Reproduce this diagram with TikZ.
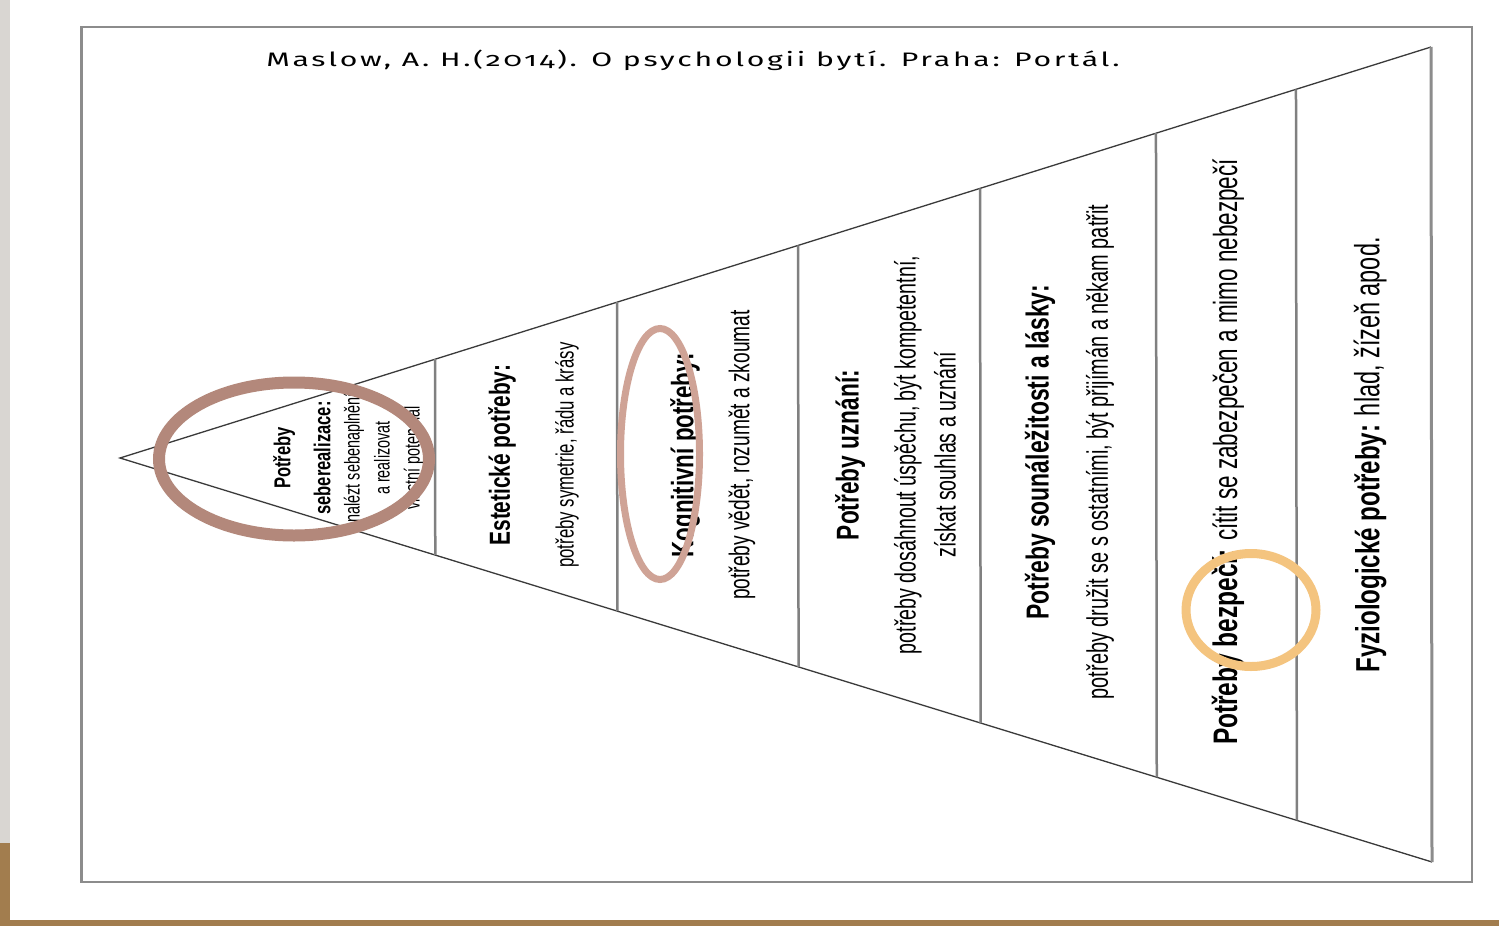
\documentclass[tikz,border=0pt]{standalone}
\usepackage{fontspec}
\usetikzlibrary{calc,shapes.geometric}
\newfontfamily\pyrfont{Liberation Sans}[FakeStretch=0.67,BoldFeatures={FakeStretch=0.72}]
\newfontfamily\citefont{Fira Sans}[Numbers=OldStyle,FakeStretch=1.55,LetterSpace=14]
\definecolor{frameGray}{HTML}{8C8C8C}
\definecolor{edgeDark}{HTML}{3A3A3A}
\definecolor{slideGray}{HTML}{D9D6D2}
\definecolor{woodBrown}{HTML}{A27D4E}
\definecolor{ringBrown}{HTML}{B3887B}
\definecolor{ringPink}{HTML}{CFA396}
\definecolor{ringGold}{HTML}{F4C47F}
\tikzset{
  head/.style 2 args={rotate=90,inner sep=0pt,align=center,font=\pyrfont\bfseries\fontsize{#1}{#2}\selectfont},
  desc/.style 2 args={rotate=90,inner sep=0pt,align=center,font=\pyrfont\fontsize{#1}{#2}\selectfont},
  ring/.style={ellipse,draw,inner sep=0pt}
}
\begin{document}
\begin{tikzpicture}[x=1pt,y=-1pt]
    \useasboundingbox (0,0) rectangle (1499,926);
    \fill[white] (0,0) rectangle (1499,926);
    \fill[slideGray] (0,0) rectangle (10,843);
    \fill[woodBrown] (0,843) rectangle (10,926);
    \fill[woodBrown] (0,920) rectangle (1499,926);
    \draw[frameGray,line width=1.5pt] (81,27) rectangle (1472,882);
    \draw[frameGray,line width=3pt] (81,27) -- (81,882);
    \node[font=\citefont\fontsize{19.5}{24}\selectfont] (cite) at (693,60) {Maslow, A. H.(2014). O psychologii bytí. Praha: Portál.};
    \coordinate (tip) at (120,458);
    \coordinate (topR) at (1431,47);
    \coordinate (botR) at (1432,862);
    \draw[edgeDark,line width=1.3pt] (topR) -- (tip) -- (botR);
    \draw[frameGray,line width=3pt] (topR) -- (botR);
    \foreach \pos in {0.2403,0.3791,0.5172,0.6560,0.7902,0.8970}
      \draw[gray,line width=2.5pt] ($(tip)!\pos!(topR)$) -- ($(tip)!\pos!(botR)$);
    \node[head={23}{40}] (selfHead) at (302,458) {Potřeby\\seberealizace:};
    \node[desc={21.5}{30}] (selfDesc) at (384,458) {nalézt sebenaplnění\\a realizovat\\vlastní potenciál};
    \node[head={29}{35}] (aesHead) at (502,455) {Estetické potřeby:};
    \node[desc={25}{30}] (aesDesc) at (567,455) {potřeby symetrie, řádu a krásy};
    \node[head={31}{37}] (cogHead) at (685,455) {Kognitivní potřeby:};
    \node[desc={28.6}{34}] (cogDesc) at (742,455) {potřeby vědět, rozumět a zkoumat};
    \node[head={31.5}{38}] (estHead) at (850,455) {Potřeby uznání:};
    \node[desc={29.3}{40}] (estDesc) at (925,455) {potřeby dosáhnout úspěchu, být kompetentní,\\získat souhlas a uznání};
    \node[head={31.8}{38}] (loveHead) at (1040,452) {Potřeby sounáležitosti a lásky:};
    \node[desc={29.7}{36}] (loveDesc) at (1100,452) {potřeby družit se s ostatními, být přijímán a někam patřit};
    \node[desc={33.5}{40}] (safeLine) at (1228,452) {{\bfseries\fontsize{34}{40}\selectfont Potřeby bezpečí:} cítit se zabezpečen a mimo nebezpečí};
    \node[desc={35}{40}] (physLine) at (1370,455) {{\bfseries\fontsize{33.5}{40}\selectfont Fyziologické potřeby:} hlad, žízeň apod.};
    \node[ring,draw=ringBrown,line width=12pt,minimum width=270pt,minimum height=153pt] (ringSelf) at (294,459) {};
    \node[ring,draw=ringPink,line width=7pt,minimum width=79pt,minimum height=251pt] (ringCog) at (660,454) {};
    \node[ring,draw=ringGold,line width=9pt,minimum width=130pt,minimum height=113pt] (ringSafe) at (1251,610) {};
\end{tikzpicture}
\end{document}
